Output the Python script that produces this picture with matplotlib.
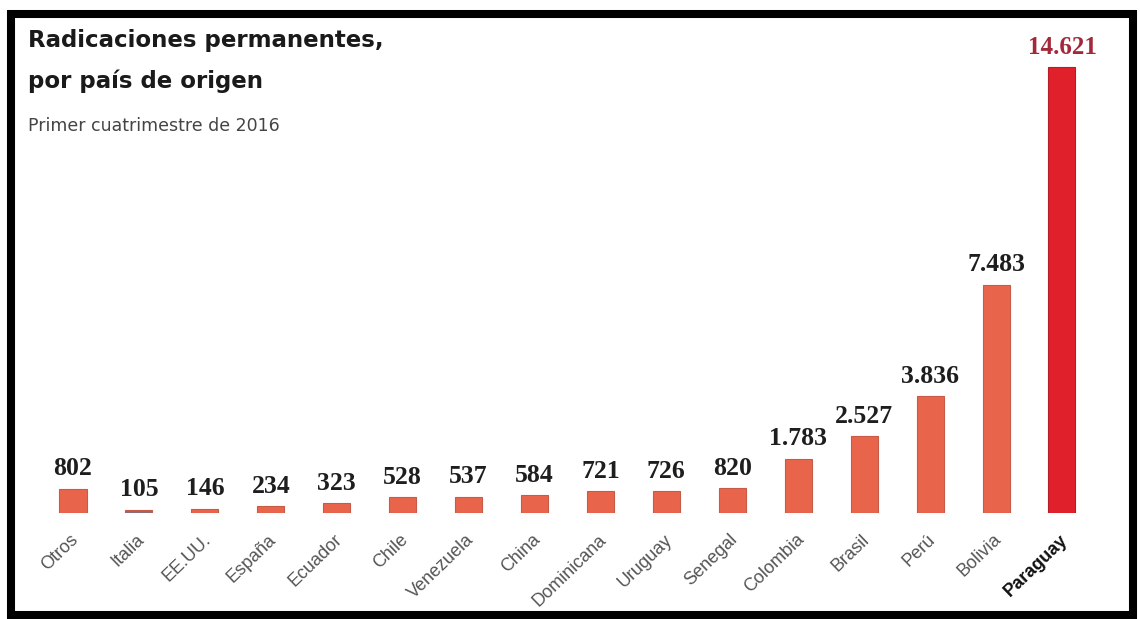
import matplotlib
matplotlib.use("Agg")
import matplotlib.pyplot as plt
from matplotlib.patches import Rectangle

categories = ["Otros", "Italia", "EE.UU.", "España", "Ecuador", "Chile", "Venezuela",
              "China", "Dominicana", "Uruguay", "Senegal", "Colombia", "Brasil",
              "Perú", "Bolivia", "Paraguay"]
values = [802, 105, 146, 234, 323, 528, 537, 584, 721, 726, 820, 1783, 2527,
          3836, 7483, 14621]
value_labels = ["802", "105", "146", "234", "323", "528", "537", "584", "721",
                "726", "820", "1.783", "2.527", "3.836", "7.483", "14.621"]

title_lines = ["Radicaciones permanentes,", "por país de origen"]
subtitle = "Primer cuatrimestre de 2016"

W, H = 1140, 619
fig = plt.figure(figsize=(W / 100, H / 100), dpi=100)
fig.patch.set_facecolor("white")

def fx(px):
    return px / W

def fy(py):
    return 1 - py / H

# axes: bar centers at 73 + 65.93*i, baseline at y=513, 14621 at y=67
x0_px, step = 73, 65.93
xmin, xmax = -0.6, 15.6
L = x0_px + xmin * step
R = x0_px + xmax * step
ymax = 16000
ppu = (513 - 67) / 14621
top_px = 513 - ymax * ppu
ax = fig.add_axes([fx(L), fy(513), fx(R - L), (513 - top_px) / H])
ax.set_xlim(xmin, xmax)
ax.set_ylim(0, ymax)
ax.axis("off")

colors = ["#E8654C"] * (len(categories) - 1) + ["#E0212B"]
colors[1] = "#8A6E7A"
edges = ["#C85A48"] * (len(categories) - 1) + ["#B81C26"]
xs = list(range(len(categories)))
ax.bar(xs, values, width=0.41, color=colors, edgecolor=edges, linewidth=0.8)

for i, (v, lab) in enumerate(zip(values, value_labels)):
    last = i == len(values) - 1
    ax.annotate(lab, (i, v), xytext=(0, 6), textcoords="offset points",
                ha="center", va="bottom", family="Liberation Serif",
                fontweight="bold", fontsize=18 if last else 18.5,
                color="#A3293A" if last else "#1E1E1E")

for i, cat in enumerate(categories):
    last = i == len(categories) - 1
    ax.annotate(cat, (i, 0), xytext=(-2, -13), textcoords="offset points",
                ha="right", va="top", rotation=44, rotation_mode="anchor",
                family="Liberation Sans", fontsize=13,
                fontweight="bold" if last else "normal",
                color="#111111" if last else "#555555")

fig.text(fx(28), fy(47), title_lines[0], family="DejaVu Sans", fontweight="bold",
         fontsize=16.5, color="#1A1A1A", va="baseline", ha="left")
fig.text(fx(28), fy(88), title_lines[1], family="DejaVu Sans", fontweight="bold",
         fontsize=16.5, color="#1A1A1A", va="baseline", ha="left")
fig.text(fx(28), fy(131), subtitle, family="DejaVu Sans", fontsize=12.5,
         color="#444444", va="baseline", ha="left")

# black frame
fig.patches.append(Rectangle((fx(11), fy(615)), fx(1133 - 11), (615 - 14) / H,
                             transform=fig.transFigure, fill=False,
                             edgecolor="black", linewidth=5.8))

fig.savefig("out.png", dpi=100, facecolor="white")
